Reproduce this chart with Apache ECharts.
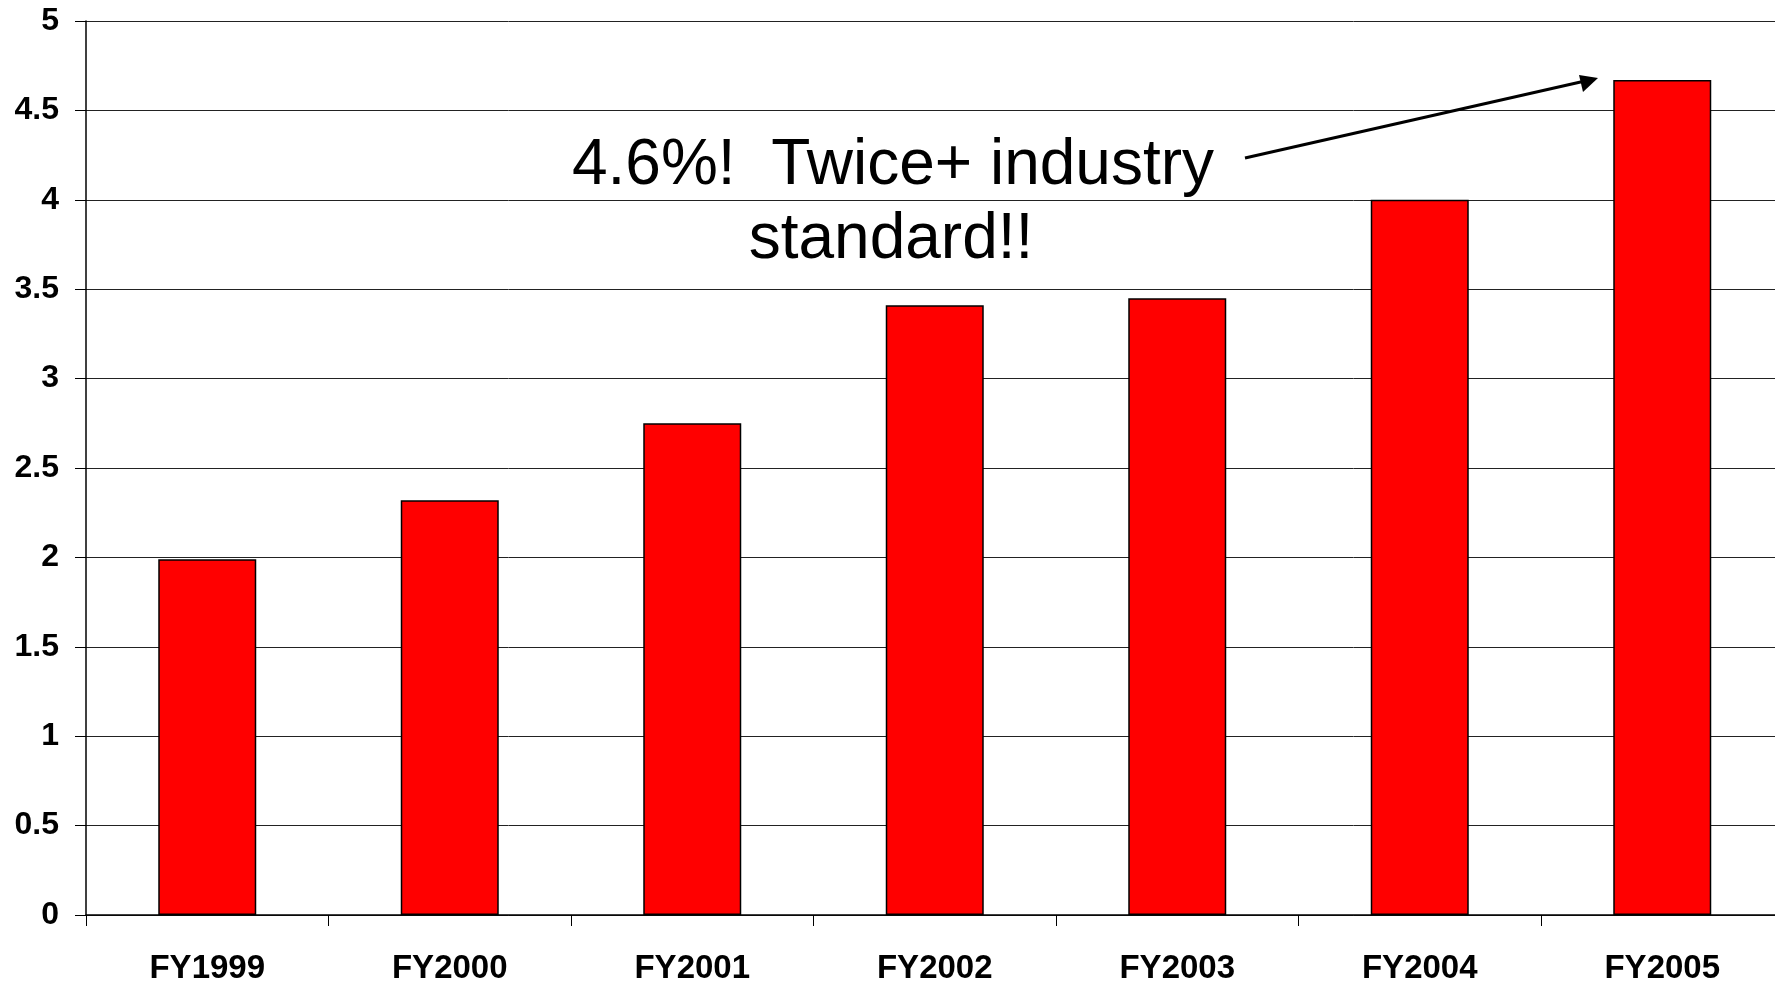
<!DOCTYPE html>
<html>
<head>
<meta charset="utf-8">
<script src="https://cdn.jsdelivr.net/npm/echarts@6/dist/echarts.min.js"></script>
<style>
html,body{margin:0;padding:0;background:#fff;}
#c{width:1775px;height:981px;}
</style>
</head>
<body>
<div id="c"></div>
<script>
const categories = ['FY1999','FY2000','FY2001','FY2002','FY2003','FY2004','FY2005'];
const values = [1.99, 2.32, 2.75, 3.41, 3.45, 4.0, 4.67];
const yTicks = {min: 0, max: 5, interval: 0.5};
const noteLines = ['4.6%!  Twice+ industry', 'standard!!'];

const chart = echarts.init(document.getElementById('c'), null, {renderer: 'canvas'});
const FONT = '"Liberation Sans", Arial, sans-serif';

chart.setOption({
  animation: false,
  backgroundColor: '#ffffff',
  grid: {left: 86, top: 21, width: 1697.5, bottom: 66, outerBoundsMode: 'none', containLabel: false},
  xAxis: {
    type: 'category',
    data: categories,
    boundaryGap: true,
    axisLine: {lineStyle: {color: '#000', width: 1.5}},
    axisTick: {show: true, alignWithLabel: false, length: 11, lineStyle: {color: '#000', width: 1}},
    axisLabel: {color: '#000', fontFamily: FONT, fontWeight: 'bold', fontSize: 33, margin: 37},
    splitLine: {show: false}
  },
  yAxis: {
    type: 'value',
    min: yTicks.min, max: yTicks.max, interval: yTicks.interval,
    axisLine: {show: true, lineStyle: {color: '#000', width: 1.5}},
    axisTick: {show: true, inside: false, length: 11, lineStyle: {color: '#000', width: 1}},
    axisLabel: {color: '#000', fontFamily: FONT, fontWeight: 'bold', fontSize: 32, margin: 27},
    splitLine: {show: true, lineStyle: {color: '#222', width: 1}}
  },
  series: [{
    type: 'bar',
    data: values,
    barWidth: 98,
    itemStyle: {color: '#ff0000', borderColor: '#000', borderWidth: 1.5},
    silent: true
  }]
});

chart.setOption({
  graphic: [
    {type: 'text', x: 893, y: 198, style: {text: noteLines[0], font: '64px ' + FONT, fill: '#000', textAlign: 'center', textVerticalAlign: 'bottom'}},
    {type: 'text', x: 891, y: 272, style: {text: noteLines[1], font: '64px ' + FONT, fill: '#000', textAlign: 'center', textVerticalAlign: 'bottom'}},
    {type: 'line', shape: {x1: 1245, y1: 158, x2: 1585, y2: 81}, style: {stroke: '#000', lineWidth: 3}},
    {type: 'polygon', shape: {points: [[1598, 78], [1579, 75], [1583, 92]]}, style: {fill: '#000'}}
  ]
});
</script>
</body>
</html>
